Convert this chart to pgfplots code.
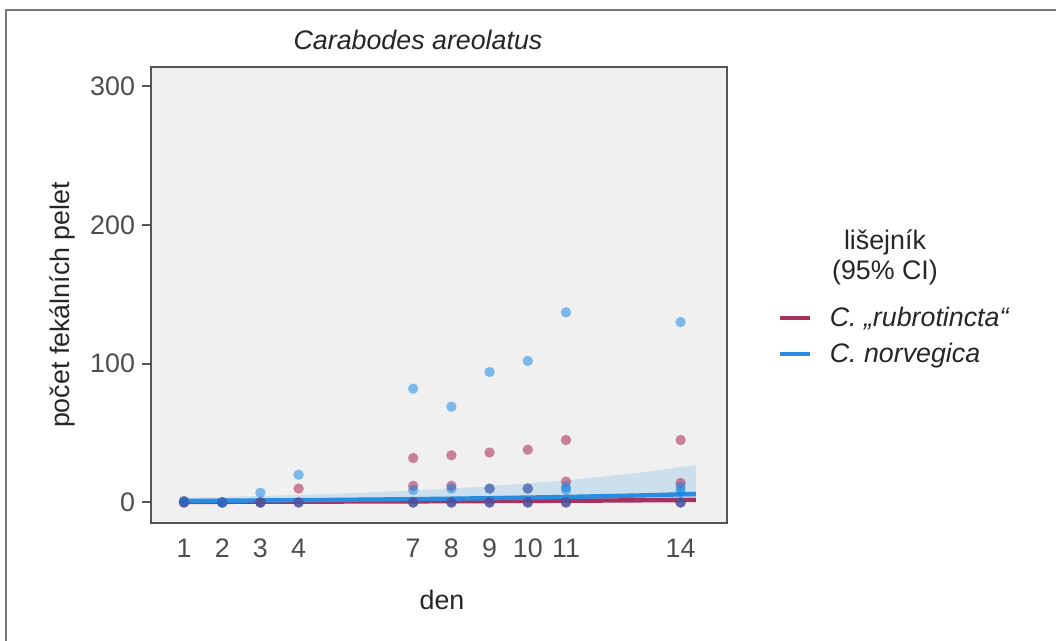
\documentclass[border=0pt]{standalone}
\usepackage{fontspec}
\setmainfont{Liberation Sans}
\usepackage{pgfplots}
\pgfplotsset{compat=1.18}
\definecolor{panelbg}{HTML}{F0F0F0}
\definecolor{axisgray}{HTML}{555555}
\definecolor{ticktext}{HTML}{4D4D4D}
\definecolor{labeltext}{HTML}{262626}
\definecolor{pinkpt}{HTML}{A21244}
\definecolor{bluept}{HTML}{0A82E2}
\definecolor{pinkline}{HTML}{A8325E}
\definecolor{blueline}{HTML}{2A8CDF}
\definecolor{framegray}{HTML}{7A7A7A}
\newcommand{\fs}{\fontsize{13.4}{16}\selectfont}
\begin{document}
\begin{tikzpicture}
\path[use as bounding box] (0,0) rectangle (528pt,320.5pt);
\draw[framegray, line width=1pt] (3pt,0pt) -- (3pt,315.5pt) -- (528pt,315.5pt);
\begin{axis}[
  at={(75.5pt,59pt)}, anchor=south west,
  scale only axis, width=288pt, height=228pt,
  xmin=0.136, xmax=15.215, ymin=-14.8, ymax=313.8,
  axis background/.style={fill=panelbg},
  axis line style={axisgray, line width=1.1pt},
  xtick={1,2,3,4,7,8,9,10,11,14},
  ytick={0,100,200,300},
  tick pos=left,
  tick align=outside, major tick length=4.5pt,
  xtick style={draw=none},
  ytick style={axisgray, line width=1pt},
  tick label style={font=\fs, text=ticktext},
  /pgf/number format/assume math mode=true,
  legend style={at={(axis description cs:1.0868,0.41)}, anchor=west, draw=none, fill=none,
    font=\itshape\fs, text=labeltext, row sep=3pt, column sep=7pt, inner sep=0pt},
  legend cell align=left,
  legend image code/.code={\draw[#1] (0pt,0pt) -- (15pt,0pt);},
]
% points
\addplot[only marks, color=pinkpt, mark=*, mark size=2.6pt, mark options={line width=0pt, draw opacity=0, fill=pinkpt, fill opacity=0.5}, forget plot] coordinates {
(1,0)(1,0)(1,0)(1,1)
(2,0)(2,0)(2,0)
(3,0)(3,0)(3,0)
(4,0)(4,0)(4,10)
(7,0)(7,0)(7,12)(7,32)
(8,0)(8,0)(8,12)(8,34)
(9,0)(9,0)(9,10)(9,36)
(10,0)(10,0)(10,10)(10,38)
(11,0)(11,0)(11,15)(11,45)
(14,0)(14,0)(14,14)(14,45)
};
\addplot[only marks, color=bluept, mark=*, mark size=2.6pt, mark options={line width=0pt, draw opacity=0, fill=bluept, fill opacity=0.5}, forget plot] coordinates {
(1,0)(1,1)
(2,0)(2,0)
(3,0)(3,7)
(4,0)(4,20)
(7,0)(7,9)(7,82)
(8,0)(8,10)(8,69)
(9,0)(9,10)(9,94)
(10,0)(10,10)(10,102)
(11,0)(11,9)(11,11)(11,137)
(14,0)(14,8)(14,11)(14,130)
};
% ribbons
\addplot[draw=none, fill=pinkpt, fill opacity=0.12, forget plot] coordinates {
(0.97,1.2)(3,1.3)(5,1.6)(7,2.1)(9,2.8)(11,3.8)(12,4.8)(13,5.9)(14.4,8)
(14.4,0.4)(11,0.35)(7,0.3)(3,0.15)(0.97,0.1)
} -- cycle;
\addplot[draw=none, fill=bluept, fill opacity=0.15, forget plot] coordinates {
(0.97,3.4)(3,4.6)(5,6.3)(7,8.6)(9,11.7)(11,15.9)(13,21.7)(14.4,27)
(14.4,1.4)(11,1.35)(9,1.3)(5,0.9)(3,0.6)(0.97,0.4)
} -- cycle;
% fitted lines
\addplot[pinkline, line width=2.2pt, forget plot] coordinates {
(0.97,0.4)(4,0.56)(7,0.79)(10,1.1)(12,1.38)(14.4,1.8)
};
\addplot[blueline, line width=2.2pt, forget plot] coordinates {
(0.97,1.1)(3,1.43)(5,1.84)(7,2.37)(9,3.06)(11,3.96)(13,5.1)(14.4,6.1)
};
\addlegendimage{pinkline, line width=2.2pt}
\addlegendentry{C. „rubrotincta“}
\addlegendimage{blueline, line width=2.2pt}
\addlegendentry{C. norvegica}
\end{axis}
\node[font=\itshape\fs, text=labeltext] at (209pt,300.5pt) {Carabodes areolatus};
\node[font=\fs, text=labeltext, rotate=90] at (31pt,168pt) {počet fekálních pelet};
\node[font=\fs, text=labeltext] at (221pt,20.5pt) {den};
\node[font=\fs, text=labeltext] at (442.5pt,199.5pt) {lišejník};
\node[font=\fs, text=labeltext] at (442.5pt,184pt) {(95\% CI)};
\end{tikzpicture}
\end{document}
